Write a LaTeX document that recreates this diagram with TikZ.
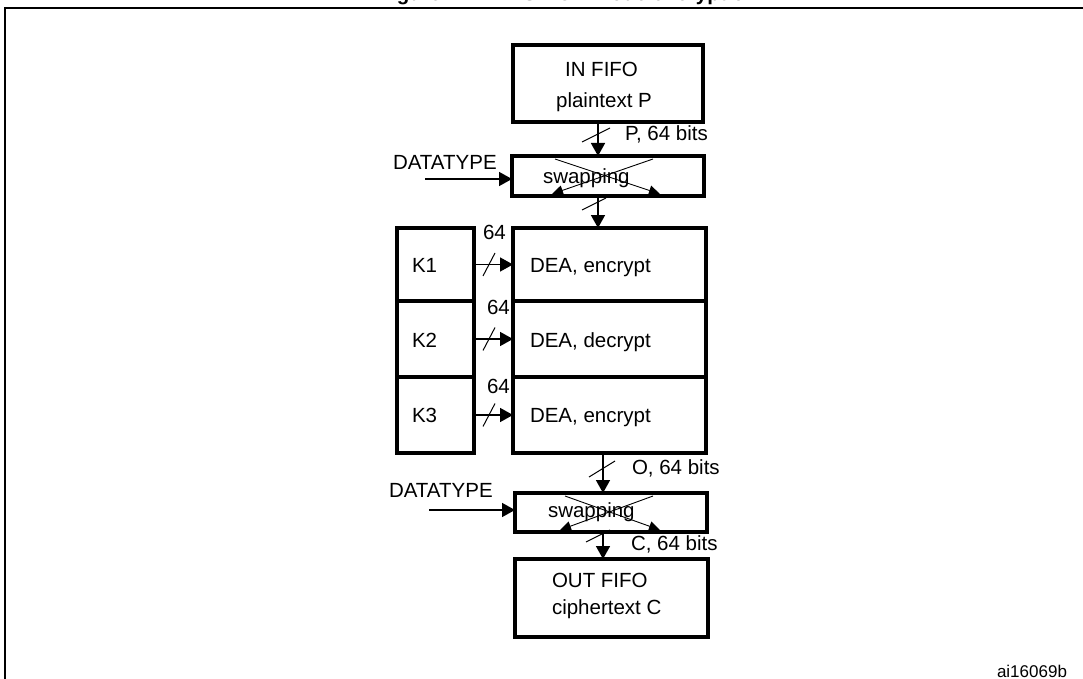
\documentclass[tikz,border=0pt]{standalone}
\usepackage{fontspec}
\setmainfont{Liberation Sans}
\usetikzlibrary{arrows.meta,calc}
\begin{document}
\begin{tikzpicture}[x=1pt,y=-1pt,
  box/.style={draw,line width=3.2pt,inner sep=0pt,outer sep=0pt},
  lbl/.style={inner sep=0pt,outer sep=0pt,anchor=base west,font=\fontsize{20.5}{24}\selectfont},
  arr/.style={line width=1.6pt,-{Triangle[length=13pt,width=14pt]}},
  slash/.style={line width=1pt},
  xarr/.style={line width=0.9pt,-{Triangle[length=11pt,width=10pt]}}]
\useasboundingbox (0,0) rectangle (1083,679);
\clip (0,0) rectangle (1083,679);
% title (cut off) and frame
\node[inner sep=0pt,anchor=base,font=\bfseries\fontsize{20.5}{24}\selectfont] (title) at (568,1) {Figure 11. TDES-ECB mode encryption};
\draw[line width=2pt] (5,700) -- (5,8) -- (1100,8);
% boxes
\node[box,minimum width=190pt,minimum height=77pt] (infifo) at (608,83.5) {};
\node[box,minimum width=192pt,minimum height=40pt] (swap1) at (608,176) {};
\node[box,minimum width=193pt,minimum height=73pt] (dea1) at (609.5,264.5) {};
\node[box,minimum width=193pt,minimum height=76pt] (dea2) at (609.5,339) {};
\node[box,minimum width=193pt,minimum height=76pt] (dea3) at (609.5,415) {};
\node[box,minimum width=77pt,minimum height=73pt] (k1) at (435.5,264.5) {};
\node[box,minimum width=77pt,minimum height=76pt] (k2) at (435.5,339) {};
\node[box,minimum width=77pt,minimum height=76pt] (k3) at (435.5,415) {};
\node[box,minimum width=192pt,minimum height=39pt] (swap2) at (611,512.5) {};
\node[box,minimum width=193pt,minimum height=78pt] (outfifo) at (611.5,598) {};
% texts
\node[lbl,anchor=base] (t-in) at (601.5,77) {IN FIFO};
\node[lbl,anchor=base] (t-pt) at (604,108) {plaintext P};
\node[lbl] (t-p64) at (625,141) {P, 64 bits};
\node[lbl] (t-dt1) at (393,170) {DATATYPE};
\node[lbl] (t-sw1) at (543,183) {swapping};
\node[lbl] (t-k1) at (412,272) {K1};
\node[lbl] (t-k2) at (412,347) {K2};
\node[lbl] (t-k3) at (412,422) {K3};
\node[lbl] (t-d1) at (530,272) {DEA, encrypt};
\node[lbl] (t-d2) at (530,347) {DEA, decrypt};
\node[lbl] (t-d3) at (530,422) {DEA, encrypt};
\node[lbl] (t-641) at (483,239) {64};
\node[lbl] (t-642) at (487,314) {64};
\node[lbl] (t-643) at (487,393) {64};
\node[lbl] (t-o64) at (632,474) {O, 64 bits};
\node[lbl] (t-dt2) at (389,497) {DATATYPE};
\node[lbl] (t-sw2) at (548,517) {swapping};
\node[lbl] (t-c64) at (631,550) {C, 64 bits};
\node[lbl] (t-out) at (552,587) {OUT FIFO};
\node[lbl] (t-ct) at (552,614) {ciphertext C};
\node[lbl,font=\fontsize{17}{20}\selectfont] (t-ai) at (997,677) {ai16069b};
% vertical connectors
\coordinate (ax1) at (598,0);
\coordinate (ax2) at (603,0);
\draw[arr] (infifo.south -| ax1) -- (swap1.north -| ax1);
\draw[slash] ($(infifo.south -| ax1)+(-2,13)$) +(-14,7) -- +(14,-7);
\draw[arr] (swap1.south -| ax1) -- (dea1.north -| ax1);
\draw[slash] ($(swap1.south -| ax1)+(-4,8)$) +(-12,6) -- +(12,-6);
\draw[arr] (dea3.south -| ax2) -- (swap2.north -| ax2);
\draw[slash] ($(dea3.south -| ax2)+(-1,16)$) +(-13,8) -- +(13,-8);
\draw[arr] (swap2.south -| ax2) -- (outfifo.north -| ax2);
\draw[slash] ($(swap2.south -| ax2)+(-5,4)$) +(-12,6) -- +(12,-6);
% key connectors
\foreach \i in {1,2,3}{
  \draw[arr] (k\i.east) -- (dea\i.west);
  \draw[slash] ($(k\i.east)+(15,0)$) +(-6,11.5) -- +(6,-11.5);
}
% DATATYPE inputs
\coordinate (dt1) at (425,179);
\coordinate (dt2) at (429,510);
\draw[arr] (dt1) -- (dt1 -| swap1.west);
\draw[arr] (dt2) -- (dt2 -| swap2.west);
% swapping crosses
\draw[xarr] ($(swap1.north west)+(43,3)$) -- ($(swap1.north west)+(148,38)$);
\draw[xarr] ($(swap1.north west)+(141,3)$) -- ($(swap1.north west)+(40,38)$);
\draw[xarr] ($(swap2.north west)+(50,3)$) -- ($(swap2.north west)+(145,37)$);
\draw[xarr] ($(swap2.north west)+(138,3)$) -- ($(swap2.north west)+(45,37)$);
\end{tikzpicture}
\end{document}
